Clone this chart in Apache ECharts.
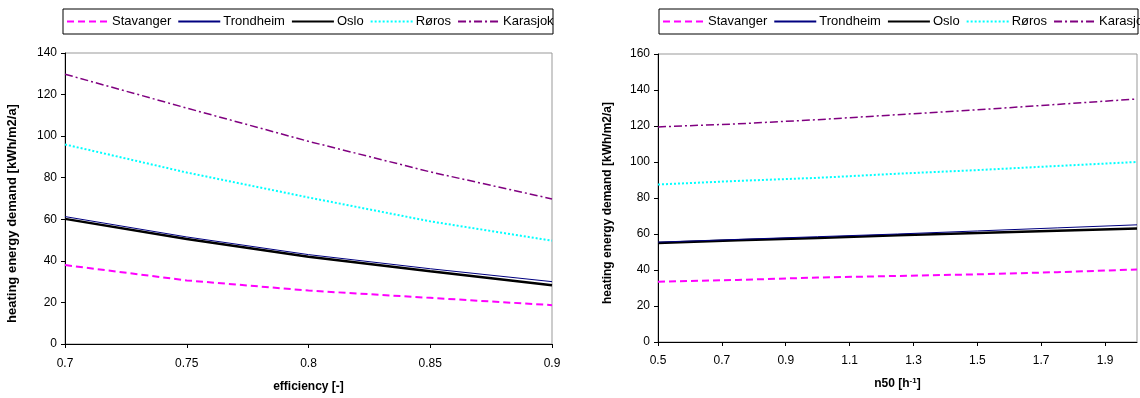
<!DOCTYPE html>
<html>
<head>
<meta charset="utf-8">
<script src="https://cdn.jsdelivr.net/npm/echarts@6/dist/echarts.min.js"></script>
<style>
  html, body { margin: 0; padding: 0; background: #fff; }
  #chart { width: 1140px; height: 398px; }
</style>
</head>
<body>
<div id="chart"></div>
<script>
// city names (legend order)
var cities = ['Stavanger', 'Trondheim', 'Oslo', 'Røros', 'Karasjok'];

// left chart: heating demand vs heat recovery efficiency
var effX = [0.7, 0.75, 0.8, 0.85, 0.9];
var effStavanger = [38, 30.6, 25.7, 22.2, 18.7];
var effTrondheim = [61.3, 51.5, 43, 36.2, 30];
var effOslo = [60.2, 50.5, 42, 35, 28.3];
var effRoros = [96, 82.5, 70.5, 59, 49.7];
var effKarasjok = [129.8, 113.5, 97.5, 82.8, 69.8];

// right chart: heating demand vs n50 air tightness
var n50X = [0.5, 0.75, 1.0, 1.25, 1.5, 1.75, 2.0];
var n50Stavanger = [33.5, 34.5, 35.8, 36.7, 37.6, 38.8, 40.3];
var n50Trondheim = [55.5, 57, 58.5, 60, 61.7, 63.4, 65.1];
var n50Oslo = [55, 56.5, 57.8, 59.3, 60.6, 61.8, 63];
var n50Roros = [87.5, 89.5, 91.2, 93.5, 95.5, 97.8, 100];
var n50Karasjok = [119.5, 121.2, 123.5, 126.3, 129, 132, 135];

var n50Offset = 0.5; // axis runs 0..1.5 so ticks fall on 0.5, 0.7, ...

var styles = {
  'Stavanger': { color: '#ff00ff', width: 2, type: [7, 4] },
  'Trondheim': { color: '#000080', width: 1, type: 'solid' },
  'Oslo': { color: '#000000', width: 2.5, type: 'solid' },
  'Røros': { color: '#00ffff', width: 2, type: [2, 2] },
  'Karasjok': { color: '#800080', width: 1.5, type: [8, 3, 2, 3] }
};

var effSets = [effStavanger, effTrondheim, effOslo, effRoros, effKarasjok];
var n50Sets = [n50Stavanger, n50Trondheim, n50Oslo, n50Roros, n50Karasjok];

var font = 'Liberation Sans, Arial, sans-serif';

function pairs(xs, ys, off) {
  return xs.map(function (x, i) { return [+(x - off).toFixed(4), ys[i]]; });
}

var series = [];
cities.forEach(function (c, i) {
  var s = styles[c];
  series.push({
    name: c, type: 'line', xAxisIndex: 0, yAxisIndex: 0,
    symbol: 'none', smooth: false, z: 10 - i,
    lineStyle: { color: s.color, width: s.width, type: s.type },
    itemStyle: { color: s.color },
    data: pairs(effX, effSets[i], 0)
  });
  series.push({
    name: c, type: 'line', xAxisIndex: 1, yAxisIndex: 1,
    symbol: 'none', smooth: false, z: 10 - i,
    lineStyle: { color: s.color, width: s.width, type: s.type },
    itemStyle: { color: s.color },
    data: pairs(n50X, n50Sets[i], n50Offset)
  });
});

var axisLine = { show: true, lineStyle: { color: '#000', width: 1 } };
var axisTick = { show: true, length: 4, lineStyle: { color: '#000' } };
var labelStyle = { color: '#000', fontFamily: font, fontSize: 12 };
var nameStyle = { color: '#000', fontFamily: font, fontSize: 12, fontWeight: 'bold' };

var legendBase = {
  data: cities,
  orient: 'horizontal',
  width: 700,
  itemWidth: 42,
  itemHeight: 10,
  itemGap: 6,
  padding: 0,
  itemStyle: { opacity: 0 },
  textStyle: { color: '#000', fontFamily: font, fontSize: 13, padding: [0, 0, 0, -2] },
  selectedMode: false
};

var option = {
  animation: false,
  backgroundColor: '#fff',
  graphic: [
    { type: 'rect', shape: { x: 63, y: 9, width: 490, height: 25 }, style: { fill: 'none', stroke: '#000', lineWidth: 1 }, z: 100 },
    { type: 'rect', shape: { x: 659, y: 9, width: 479, height: 25 }, style: { fill: 'none', stroke: '#000', lineWidth: 1 }, z: 100 }
  ],
  legend: [
    Object.assign({}, legendBase, { left: 66, top: 15 }),
    Object.assign({}, legendBase, { left: 662, top: 15 })
  ],
  grid: [
    { left: 65, top: 53, width: 487, height: 293, show: true, borderColor: '#999', borderWidth: 1, backgroundColor: 'transparent' },
    { left: 658, top: 54, width: 479, height: 288, show: true, borderColor: '#999', borderWidth: 1, backgroundColor: 'transparent' }
  ],
  xAxis: [
    {
      gridIndex: 0, type: 'value', min: 0.7, max: 0.9, interval: 0.05,
      name: 'efficiency [-]', nameLocation: 'middle', nameGap: 37, nameTextStyle: nameStyle,
      axisLine: axisLine, axisTick: axisTick, splitLine: { show: false },
      axisLabel: Object.assign({ margin: 14 }, labelStyle)
    },
    {
      gridIndex: 1, type: 'value', min: 0, max: 1.5, interval: 0.2,
      name: 'n50 [h{sup|-1}]', nameLocation: 'middle', nameGap: 35,
      nameTextStyle: Object.assign({}, nameStyle, { rich: { sup: { fontSize: 8, fontWeight: 'bold', fontFamily: font, verticalAlign: 'top', padding: [0, 0, 6, 0] } } }),
      axisLine: axisLine, axisTick: axisTick, splitLine: { show: false },
      axisLabel: Object.assign({
        margin: 13, showMaxLabel: false,
        formatter: function (v) { return (v + n50Offset).toFixed(1); }
      }, labelStyle)
    }
  ],
  yAxis: [
    {
      gridIndex: 0, type: 'value', min: 0, max: 140, interval: 20,
      name: 'heating energy demand [kWh/m2/a]', nameLocation: 'middle', nameGap: 46,
      nameTextStyle: Object.assign({}, nameStyle, { fontSize: 13, padding: [0, 30, 0, 0] }),
      axisLine: axisLine, axisTick: axisTick, splitLine: { show: false },
      axisLabel: Object.assign({ margin: 8 }, labelStyle)
    },
    {
      gridIndex: 1, type: 'value', min: 0, max: 160, interval: 20,
      name: 'heating energy demand [kWh/m2/a]', nameLocation: 'middle', nameGap: 44,
      nameTextStyle: Object.assign({}, nameStyle, { padding: [0, 10, 0, 0] }),
      axisLine: axisLine, axisTick: axisTick, splitLine: { show: false },
      axisLabel: Object.assign({ margin: 8 }, labelStyle)
    }
  ],
  series: series
};

var chart = echarts.init(document.getElementById('chart'), null, { renderer: 'canvas' });
chart.setOption(option);
</script>
</body>
</html>
